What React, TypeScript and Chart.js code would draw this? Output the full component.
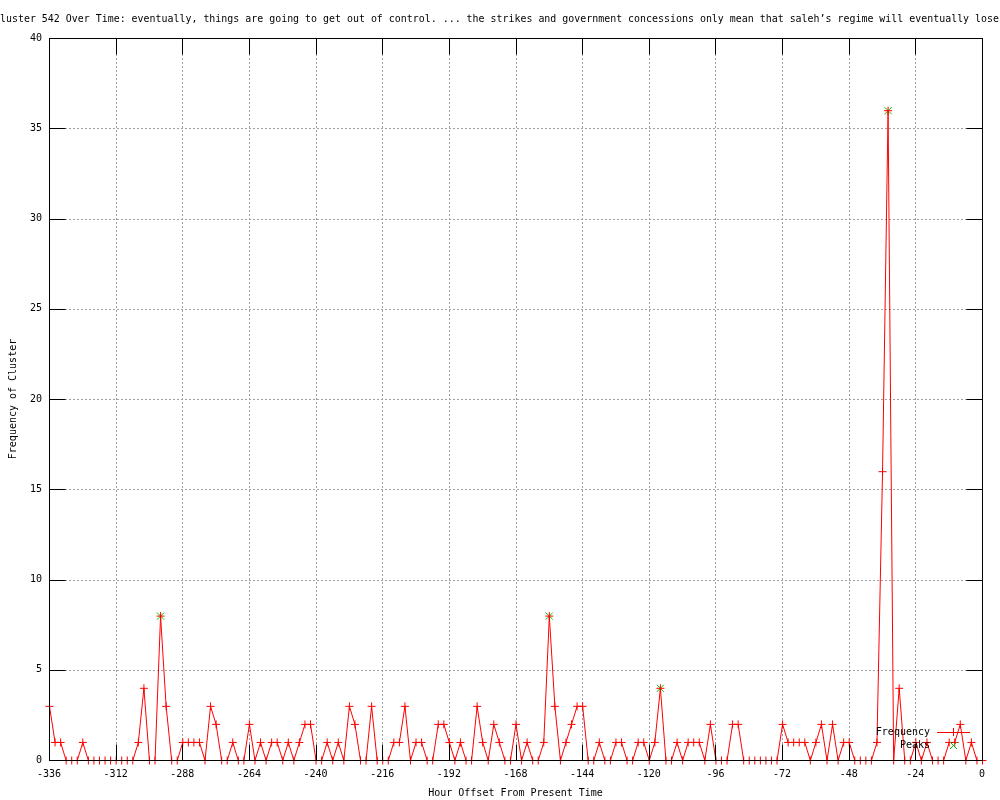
import React, { useEffect, useRef } from "react";
import { Chart, registerables } from "chart.js";

Chart.register(...registerables);

const TITLE =
  "Cluster 542 Over Time: eventually, things are going to get out of control. ... the strikes and government concessions only mean that saleh\u2019s regime will eventually lose";
const X_TITLE = "Hour Offset From Present Time";
const Y_TITLE = "Frequency of Cluster";
const SERIES_NAMES = ["Frequency", "Peaks"];

const HOUR_START = -336;
const HOUR_STEP = 2;
const X_MIN = -336;
const X_MAX = 0;
const X_STEP = 24;
const Y_MIN = 0;
const Y_MAX = 40;
const Y_STEP = 5;

// Frequency every 2 hours from -336 to 0
const frequency = [
  3, 1, 1, 0, 0, 0, 1, 0, 0, 0,
  0, 0, 0, 0, 0, 0, 1, 4, 0, 0,
  8, 3, 0, 0, 1, 1, 1, 1, 0, 3,
  2, 0, 0, 1, 0, 0, 2, 0, 1, 0,
  1, 1, 0, 1, 0, 1, 2, 2, 0, 0,
  1, 0, 1, 0, 3, 2, 0, 0, 3, 0,
  0, 0, 1, 1, 3, 0, 1, 1, 0, 0,
  2, 2, 1, 0, 1, 0, 0, 3, 1, 0,
  2, 1, 0, 0, 2, 0, 1, 0, 0, 1,
  8, 3, 0, 1, 2, 3, 3, 0, 0, 1,
  0, 0, 1, 1, 0, 0, 1, 1, 0, 1,
  4, 0, 0, 1, 0, 1, 1, 1, 0, 2,
  0, 0, 0, 2, 2, 0, 0, 0, 0, 0,
  0, 0, 2, 1, 1, 1, 1, 0, 1, 2,
  0, 2, 0, 1, 1, 0, 0, 0, 0, 1,
  16, 36, 0, 4, 0, 0, 1, 0, 1, 0,
  0, 0, 1, 1, 2, 0, 1, 0, 0,
];

const peakHours = [-296, -156, -116, -34];
const peakValues = [8, 8, 4, 36];

const RED = "#ff0000";
const GREEN = "#00c000";
const GRID = "#a0a0a0";
const FONT = "'DejaVu Sans Mono', 'Liberation Mono', monospace";
const TICK_LEN = 16;

const framePlugin = {
  id: "gnuplotFrame",
  beforeDatasetsDraw(chart: any) {
    const { ctx, chartArea: a, scales } = chart;
    const x = scales.x;
    const y = scales.y;
    ctx.save();
    ctx.strokeStyle = GRID;
    ctx.lineWidth = 1;
    ctx.setLineDash([2, 2]);
    x.ticks.forEach((t: any) => {
      if (t.value <= x.min || t.value >= x.max) return;
      const px = Math.round(x.getPixelForValue(t.value)) + 0.5;
      ctx.beginPath();
      ctx.moveTo(px, a.top);
      ctx.lineTo(px, a.bottom);
      ctx.stroke();
    });
    y.ticks.forEach((t: any) => {
      if (t.value <= y.min || t.value >= y.max) return;
      const py = Math.round(y.getPixelForValue(t.value)) + 0.5;
      ctx.beginPath();
      ctx.moveTo(a.left, py);
      ctx.lineTo(a.right, py);
      ctx.stroke();
    });
    ctx.restore();
    // half-pixel shift so 1px data lines render crisply
    ctx.save();
    ctx.translate(0.5, 0.5);
  },
  afterDatasetsDraw(chart: any) {
    const { ctx, chartArea: a, scales } = chart;
    ctx.restore();
    const x = scales.x;
    const y = scales.y;
    const L = Math.round(a.left) + 0.5;
    const R = Math.round(a.right) + 0.5;
    const T = Math.round(a.top) + 0.5;
    const B = Math.round(a.bottom) + 0.5;
    ctx.save();
    ctx.setLineDash([]);
    ctx.strokeStyle = "#000000";
    ctx.lineWidth = 1;
    ctx.strokeRect(L, T, R - L, B - T);
    ctx.beginPath();
    x.ticks.forEach((t: any) => {
      const px = Math.round(x.getPixelForValue(t.value)) + 0.5;
      ctx.moveTo(px, B);
      ctx.lineTo(px, B - TICK_LEN);
      ctx.moveTo(px, T);
      ctx.lineTo(px, T + TICK_LEN);
    });
    y.ticks.forEach((t: any) => {
      const py = Math.round(y.getPixelForValue(t.value)) + 0.5;
      ctx.moveTo(L, py);
      ctx.lineTo(L + TICK_LEN, py);
      ctx.moveTo(R, py);
      ctx.lineTo(R - TICK_LEN, py);
    });
    ctx.stroke();

    // legend
    ctx.font = `10px ${FONT}`;
    ctx.fillStyle = "#000000";
    ctx.textAlign = "right";
    ctx.textBaseline = "middle";
    const textRight = 930;
    const y1 = 732;
    const y2 = 745;
    ctx.fillText(SERIES_NAMES[0], textRight, y1);
    ctx.fillText(SERIES_NAMES[1], textRight, y2);
    ctx.strokeStyle = RED;
    ctx.beginPath();
    ctx.moveTo(937, y1 + 0.5);
    ctx.lineTo(970, y1 + 0.5);
    ctx.moveTo(953.5, y1 - 4);
    ctx.lineTo(953.5, y1 + 4);
    ctx.stroke();
    ctx.strokeStyle = GREEN;
    ctx.beginPath();
    ctx.moveTo(950, y2 - 3);
    ctx.lineTo(957, y2 + 4);
    ctx.moveTo(957, y2 - 3);
    ctx.lineTo(950, y2 + 4);
    ctx.stroke();
    ctx.restore();
  },
  afterDraw(chart: any) {
    const { ctx, chartArea: a } = chart;
    ctx.save();
    ctx.font = `10px ${FONT}`;
    ctx.fillStyle = "#000000";
    ctx.textBaseline = "middle";
    ctx.textAlign = "left";
    ctx.fillText(TITLE, -6, 19, 1005);
    ctx.textAlign = "center";
    ctx.fillText(X_TITLE, (a.left + a.right) / 2, 793);
    ctx.translate(13, (a.top + a.bottom) / 2);
    ctx.rotate(-Math.PI / 2);
    ctx.fillText(Y_TITLE, 0, 0);
    ctx.restore();
  },
};

export default function App() {
  const ref = useRef<HTMLCanvasElement | null>(null);

  useEffect(() => {
    if (!ref.current) return;
    const freqPoints = frequency.map((v, i) => ({ x: HOUR_START + i * HOUR_STEP, y: v }));
    const peakPoints = peakHours.map((h, i) => ({ x: h, y: peakValues[i] }));
    const tickFont = { family: FONT, size: 10 };
    const chart = new Chart(ref.current, {
      type: "line",
      data: {
        datasets: [
          {
            label: SERIES_NAMES[0],
            data: freqPoints,
            borderColor: RED,
            backgroundColor: RED,
            borderWidth: 1,
            pointStyle: "cross",
            pointRadius: 4,
            pointBorderWidth: 1,
            pointBorderColor: RED,
            tension: 0,
            fill: false,
            clip: false,
          } as any,
          {
            label: SERIES_NAMES[1],
            data: peakPoints,
            showLine: false,
            borderColor: GREEN,
            backgroundColor: GREEN,
            pointStyle: "crossRot",
            pointRadius: 5,
            pointBorderWidth: 1,
            pointBorderColor: GREEN,
            clip: false,
          } as any,
        ],
      },
      options: {
        responsive: false,
        animation: false,
        devicePixelRatio: 1,
        events: [],
        layout: { padding: { left: 0, top: 38, right: 18, bottom: 0 } },
        plugins: {
          legend: { display: false },
          title: { display: false },
          tooltip: { enabled: false },
        },
        scales: {
          x: {
            type: "linear",
            min: X_MIN,
            max: X_MAX,
            ticks: {
              stepSize: X_STEP,
              color: "#000000",
              font: tickFont,
              padding: 8,
              maxRotation: 0,
              autoSkip: false,
            },
            grid: { display: false, drawTicks: false },
            border: { display: false },
            afterFit: (s: any) => {
              s.height = 40;
            },
          },
          y: {
            type: "linear",
            min: Y_MIN,
            max: Y_MAX,
            ticks: {
              stepSize: Y_STEP,
              color: "#000000",
              font: tickFont,
              padding: 7,
            },
            grid: { display: false, drawTicks: false },
            border: { display: false },
            afterFit: (s: any) => {
              s.width = 49;
            },
          },
        },
      },
      plugins: [framePlugin],
    });
    return () => chart.destroy();
  }, []);

  return (
    <div style={{ position: "absolute", left: 0, top: 0, width: 1000, height: 800, background: "#ffffff" }}>
      <canvas ref={ref} width={1000} height={800} style={{ display: "block" }} />
    </div>
  );
}
